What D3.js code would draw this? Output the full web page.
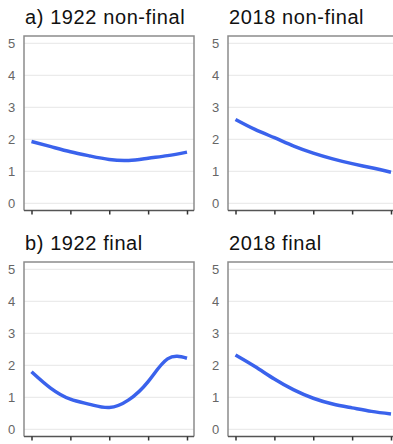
<!DOCTYPE html>
<html>
<head>
<meta charset="utf-8">
<script src="https://cdn.jsdelivr.net/npm/d3@7"></script>
<style>
  body { margin: 0; background: #fff; }
  svg { display: block; font-family: "Liberation Sans", Arial, sans-serif; }
</style>
</head>
<body>
<script>
// x positions shared by every panel (5 ticks, half steps in between)
var xs = [0, 0.5, 1, 1.5, 2, 2.5, 3, 3.5, 4];
var yTicks = [0, 1, 2, 3, 4, 5];
var xTicks = [0, 1, 2, 3, 4];

var titles = ["a) 1922 non-final", "2018 non-final", "b) 1922 final", "2018 final"];
var nonFinal1922 = [1.93, 1.77, 1.61, 1.48, 1.37, 1.34, 1.41, 1.49, 1.60];
var nonFinal2018 = [2.62, 2.31, 2.05, 1.79, 1.57, 1.39, 1.24, 1.11, 0.97];
var final1922 = [1.80, 1.28, 0.94, 0.78, 0.68, 0.92, 1.49, 2.20, 2.22];
var final2018 = [2.32, 1.96, 1.57, 1.23, 0.97, 0.79, 0.67, 0.56, 0.48];

var series = [nonFinal1922, nonFinal2018, final1922, final2018];

var w = 393, h = 444;
var pw = 170, ph = 174.5; // panel frame size
var lefts = [24, 228], tops = [36, 262];

var svg = d3.select("body").append("svg")
    .attr("width", w)
    .attr("height", h);

var x = d3.scaleLinear().domain([0, 4]).range([7.5, 163]);
var y = d3.scaleLinear().domain([0, 5]).range([167.3, 7.3]);

var line = d3.line()
    .x(function(d, i){ return x(xs[i]); })
    .y(function(d){ return y(d); })
    .curve(d3.curveNatural);

series.forEach(function(vals, k){
    var left = lefts[k % 2], top = tops[Math.floor(k / 2)];
    var g = svg.append("g").attr("transform", "translate(" + left + "," + top + ")");

    // title
    svg.append("text")
        .attr("x", left + 1)
        .attr("y", top - 12)
        .style("font-size", "20px")
        .style("letter-spacing", "0.6px")
        .style("fill", "#111")
        .text(titles[k]);

    // grid lines
    g.selectAll(".grid").data(yTicks).enter().append("line")
        .attr("x1", 0).attr("x2", pw)
        .attr("y1", function(d){ return y(d); })
        .attr("y2", function(d){ return y(d); })
        .style("stroke", "#e6e6e6")
        .style("stroke-width", 1);

    // frame
    g.append("path")
        .attr("d", "M0," + ph + "V0H" + pw + "V" + ph)
        .style("fill", "none")
        .style("stroke", "#8c8c8c")
        .style("stroke-width", 1.5);

    // y labels
    var yAxis = d3.axisLeft(y).tickValues(yTicks).tickSize(0).tickFormat(d3.format("d"));
    var ya = g.append("g").call(yAxis);
    ya.select(".domain").remove();
    ya.selectAll("text")
        .attr("x", -12.5)
        .style("text-anchor", "middle")
        .style("font-size", "13px")
        .style("font-family", "Liberation Sans, Arial, sans-serif")
        .style("fill", "#666");

    // x axis: ticks only
    var xAxis = d3.axisBottom(x).tickValues(xTicks).tickSize(4).tickSizeOuter(0).tickFormat("");
    var xa = g.append("g").attr("transform", "translate(0," + ph + ")").call(xAxis);
    xa.select(".domain")
        .attr("d", "M0,0H" + pw)
        .style("stroke", "#555")
        .style("stroke-width", 1.5);
    xa.selectAll(".tick line").style("stroke", "#333").style("stroke-width", 1.5);

    // curve
    g.append("path")
        .datum(vals)
        .attr("d", line)
        .style("fill", "none")
        .style("stroke", "#3a62ec")
        .style("stroke-width", 3.5)
        .style("stroke-linecap", "butt");
});
</script>
</body>
</html>
